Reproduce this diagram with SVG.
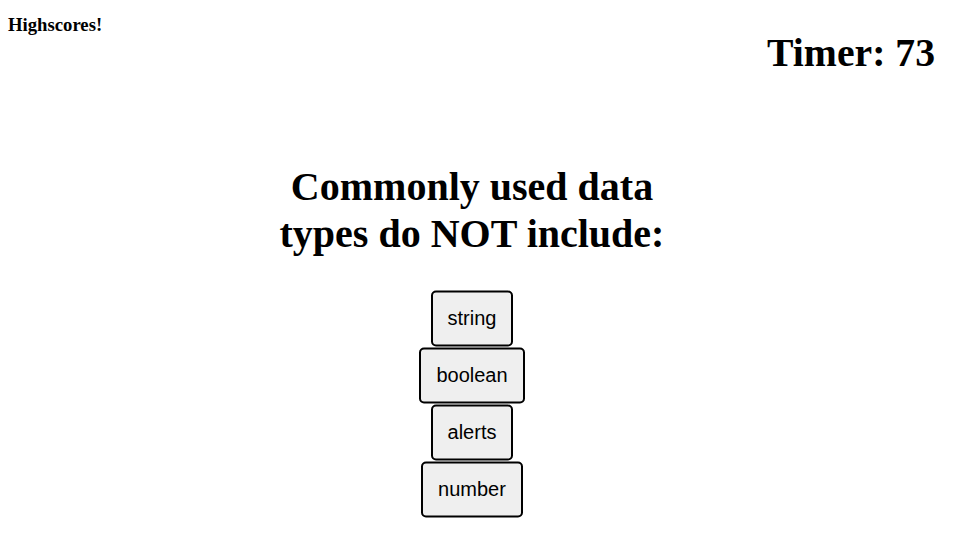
<svg xmlns="http://www.w3.org/2000/svg" width="960" height="548" viewBox="0 0 960 548">
<style>
.serif{font-family:"Liberation Serif","Times New Roman",serif;font-weight:bold;fill:#000}
.btn rect{fill:#efefef;stroke:#000;stroke-width:2}
.btn text{font-family:"Liberation Sans",Arial,sans-serif;font-size:20px;fill:#000;text-anchor:middle}
</style>
<rect width="960" height="548" fill="#fff"/>
<g id="highscores"><text class="serif" x="8" y="31" font-size="18.7">Highscores!</text></g>
<g id="timer"><text class="serif" x="935" y="66" font-size="39.7" text-anchor="end">Timer: 73</text></g>
<g id="question">
<text class="serif" x="472" y="200" font-size="40" text-anchor="middle">Commonly used data</text>
<text class="serif" x="472" y="247" font-size="40" text-anchor="middle">types do NOT include:</text>
</g>
<g id="btn-string" class="btn"><rect x="432" y="291.5" width="80" height="54" rx="4"/><text x="472" y="325">string</text></g>
<g id="btn-boolean" class="btn"><rect x="420" y="348.5" width="104" height="54" rx="4"/><text x="472" y="382">boolean</text></g>
<g id="btn-alerts" class="btn"><rect x="432" y="405.5" width="80" height="54" rx="4"/><text x="472" y="439">alerts</text></g>
<g id="btn-number" class="btn"><rect x="422" y="462.5" width="100" height="54" rx="4"/><text x="472" y="496">number</text></g>
<g id="connectors"></g>
</svg>
